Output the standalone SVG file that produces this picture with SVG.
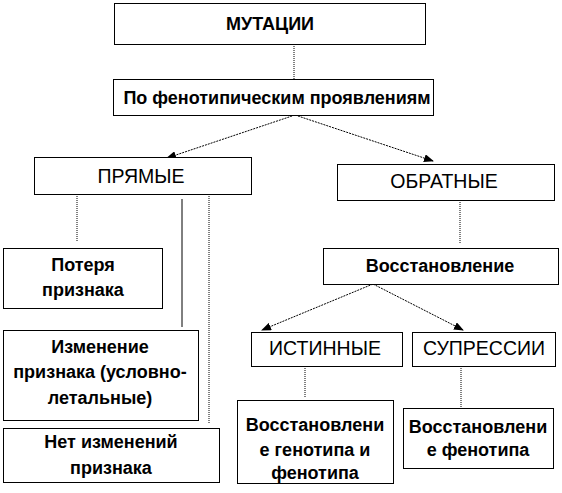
<svg xmlns="http://www.w3.org/2000/svg" width="562" height="493" viewBox="0 0 562 493">
<style>
.box{fill:#fff;stroke:#000;stroke-width:1}
.t{font-family:"Liberation Sans",Arial,sans-serif;font-size:18px;text-anchor:middle;fill:#000}
.b{font-weight:bold}
.u{font-size:19.5px}
.c{stroke:#000;stroke-width:1;fill:none}
.d{stroke-dasharray:1,1}
.a{stroke-dasharray:2,1}
</style>
<defs>
<marker id="ah" markerWidth="10" markerHeight="8" refX="9" refY="4" orient="auto" markerUnits="userSpaceOnUse">
<path d="M0,0 L10,4 L0,8 Z" fill="#000"/>
</marker>
</defs>
<g id="connectors">
<line class="c d" x1="294" y1="44" x2="294" y2="79"/>
<line class="c a" x1="295" y1="115" x2="167" y2="158" marker-end="url(#ah)"/>
<line class="c a" x1="295" y1="115" x2="433" y2="161" marker-end="url(#ah)"/>
<line class="c d" x1="77" y1="194" x2="77" y2="242"/>
<line class="c" x1="182" y1="199" x2="182" y2="327"/>
<line class="c d" x1="209" y1="194" x2="209" y2="423"/>
<line class="c d" x1="460" y1="200" x2="460" y2="244"/>
<line class="c a" x1="373" y1="284" x2="262" y2="330" marker-end="url(#ah)"/>
<line class="c a" x1="373" y1="284" x2="463" y2="330" marker-end="url(#ah)"/>
<line class="c d" x1="305" y1="366" x2="305" y2="398"/>
<line class="c d" x1="461" y1="366" x2="461" y2="407"/>
</g>
<g id="mutacii"><rect class="box" x="114.5" y="3.5" width="311" height="41"/><text class="t b" x="270" y="30">МУТАЦИИ</text></g>
<g id="fenotip"><rect class="box" x="113.5" y="79.5" width="320" height="36"/><text class="t b" x="277" y="104" font-size="15.3">По фенотипическим проявлениям</text></g>
<g id="pryamye"><rect class="box" x="34.5" y="157.5" width="217" height="37"/><text class="t u" x="141" y="183">ПРЯМЫЕ</text></g>
<g id="obratnye"><rect class="box" x="337.5" y="164.5" width="217" height="36"/><text class="t u" x="444" y="188">ОБРАТНЫЕ</text></g>
<g id="poterya"><rect class="box" x="3.5" y="248.5" width="159" height="60"/><text class="t b" x="83" y="271">Потеря</text><text class="t b" x="83" y="296">признака</text></g>
<g id="izmenenie"><rect class="box" x="3.5" y="330.5" width="195" height="90"/><text class="t b" x="100" y="353">Изменение</text><text class="t b" x="100" y="378">признака (условно-</text><text class="t b" x="100" y="404">летальные)</text></g>
<g id="net"><rect class="box" x="3.5" y="428.5" width="216" height="54"/><text class="t b" x="111" y="448">Нет изменений</text><text class="t b" x="111" y="474">признака</text></g>
<g id="vosstanovlenie"><rect class="box" x="323.5" y="248.5" width="235" height="36"/><text class="t b" x="440" y="272">Восстановление</text></g>
<g id="istinnye"><rect class="box" x="251.5" y="332.5" width="151" height="34"/><text class="t u" x="325" y="355">ИСТИННЫЕ</text></g>
<g id="supressii"><rect class="box" x="412.5" y="332.5" width="143" height="34"/><text class="t u" x="484" y="355">СУПРЕССИИ</text></g>
<g id="vg"><rect class="box" x="237.5" y="400.5" width="156" height="83"/><text class="t b" x="315" y="431">Восстановлени</text><text class="t b" x="315" y="456">е генотипа и</text><text class="t b" x="315" y="479">фенотипа</text></g>
<g id="vf"><rect class="box" x="403.5" y="408.5" width="150" height="60"/><text class="t b" x="478" y="433">Восстановлени</text><text class="t b" x="478" y="456">е фенотипа</text></g>
</svg>
